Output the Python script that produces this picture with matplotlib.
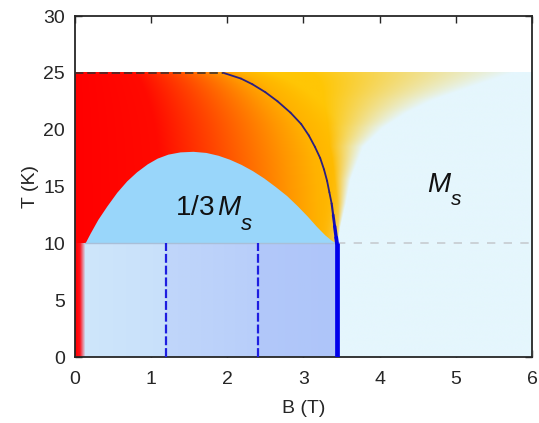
import numpy as np
import matplotlib.pyplot as plt
from matplotlib.collections import LineCollection

plt.rcParams['font.family'] = ['Liberation Sans', 'DejaVu Sans']
plt.rcParams['mathtext.fontset'] = 'custom'
plt.rcParams['mathtext.rm'] = 'Liberation Sans'
plt.rcParams['mathtext.it'] = 'Liberation Sans:italic'

# transition line (B, T) from the ordering temperature down to T_low
phase_B = [1.95, 2.18, 2.33, 2.50, 2.66, 2.83, 2.97, 3.07, 3.15, 3.22,
           3.27, 3.31, 3.34, 3.37, 3.39, 3.41, 3.43, 3.44]
phase_T = [25.0, 24.5, 24.0, 23.3, 22.5, 21.5, 20.5, 19.5, 18.5, 17.5,
           16.5, 15.5, 14.5, 13.5, 12.5, 11.5, 10.5, 10.0]

# 1/3 plateau dome
dome_B = [0.13, 0.20, 0.30, 0.42, 0.55, 0.68, 0.81, 0.95, 1.08, 1.22, 1.38,
          1.55, 1.72, 1.88, 2.03, 2.18, 2.33, 2.48, 2.63, 2.78, 2.92, 3.05,
          3.17, 3.28, 3.37, 3.44]
dome_T = [10.0, 10.9, 12.1, 13.3, 14.5, 15.5, 16.3, 17.0, 17.5, 17.85, 18.05,
          18.1, 18.0, 17.75, 17.4, 16.95, 16.4, 15.75, 15.0, 14.2, 13.3, 12.4,
          11.5, 10.75, 10.25, 10.0]

# edge of the saturated region
ms_B = [3.44, 3.48, 3.55, 3.61, 3.78, 4.05, 4.36, 4.7, 5.09, 5.75]
ms_T = [10.0, 11.5, 13.5, 15.6, 18.5, 20.2, 21.5, 22.6, 23.5, 25.0]

T_order = 25.0        # ordering temperature
T_low = 10.0          # low temperature boundary
B_edge = 0.13         # low-field edge of the low-T phases
B_steps = [1.2, 2.4]  # field-induced steps below T_low
B_sat = 3.44

xticks = [0, 1, 2, 3, 4, 5, 6]
yticks = [0, 5, 10, 15, 20, 25, 30]


def smooth(a, sx, sy):
    # separable gaussian blur with edge padding
    for axis, sig in ((1, sx), (0, sy)):
        n = int(3 * sig)
        k = np.exp(-0.5 * (np.arange(-n, n + 1) / sig) ** 2)
        k /= k.sum()
        a = np.apply_along_axis(
            lambda r: np.convolve(np.pad(r, n, mode='edge'), k, 'valid'), axis, a)
    return a


# background map
nb, nt = 460, 290
B = np.linspace(0, 6, nb)
T = np.linspace(0, T_order, nt)
BB, TT = np.meshgrid(B, T)
Tc = np.clip(TT, T_low, T_order)
bc = np.interp(Tc, phase_T[::-1], phase_B[::-1])
bms = np.interp(Tc, ms_T, ms_B)

# red -> orange -> amber with field
p = np.clip(BB / (bc + 0.3 + 0.3 * (Tc - T_low) / (T_order - T_low)), 0, 1)
green = np.interp(p, [0, 0.3, 0.5, 0.75, 0.85, 1.0], [0, 10, 70, 150, 178, 198])
img = np.zeros((nt, nb, 3))
img[..., 0] = 255
img[..., 1] = green
img[..., 2] = np.interp(p, [0, 0.9, 1.0], [0, 0, 5])

# fade towards the saturated state beyond the transition line
cyan = np.array([229, 246, 253])
v = (BB - bc) / np.maximum(bms - bc, 1e-3)
fade = np.clip((v - 0.3) / 0.7, 0, 1)
m = smooth((BB > bms).astype(float), 8, 5)
a = np.maximum(fade, m)
img = img * (1 - a[..., None]) + cyan * a[..., None]

# low temperature strip
knots = [0, 0.06, B_edge, B_steps[0] - 1e-3, B_steps[0], B_steps[1] - 1e-3,
         B_steps[1], B_sat - 1e-3, B_sat, 6]
low_r = [255, 255, 206, 200, 192, 184, 178, 174, 229, 229]
low_g = [0, 20, 230, 224, 214, 206, 200, 197, 246, 246]
low_b = [0, 30, 251, 250, 250, 250, 249, 249, 253, 253]
low = np.stack([np.interp(B, knots, c) for c in (low_r, low_g, low_b)], axis=-1)
below = TT < T_low
img[below] = np.broadcast_to(low, img.shape)[below]

fig, ax = plt.subplots(figsize=(5.39, 4.23), dpi=100)
fig.subplots_adjust(left=0.139, right=0.987, bottom=0.156, top=0.962)

ax.imshow(img / 255, origin='lower', extent=[0, 6, 0, T_order],
          aspect='auto', interpolation='bilinear', zorder=1)

ax.fill_between(dome_B, T_low, dome_T, color='#99d6fa', lw=0, zorder=2)

# boundary lines
ax.plot([B_edge, B_sat], [T_low, T_low], color='#a9bfd8', lw=1.0, zorder=3)
ax.plot([B_sat, 6], [T_low, T_low], color='#c6cbd0', lw=1.2,
        ls=(0, (5, 5)), zorder=3)
ax.plot([0, phase_B[0]], [T_order, T_order], color='#2e2e2e', lw=1.1,
        ls=(0, (5.5, 2.5)), zorder=3)
for b in B_steps:
    ax.plot([b, b], [0, T_low], color='#1e1ee0', lw=1.6,
            ls=(0, (4, 1.3)), zorder=3)

pts = np.column_stack([phase_B, phase_T])
segs = np.stack([pts[:-1], pts[1:]], axis=1)
mid_T = 0.5 * (pts[:-1, 1] + pts[1:, 1])
f = np.clip((13.5 - mid_T) / 3.5, 0, 1)
cols = [(0.17 - 0.17 * k, 0.12 - 0.12 * k, 0.50 + 0.42 * k) for k in f]
ax.add_collection(LineCollection(segs, colors=cols, linewidths=1.3 + 1.6 * f,
                                 capstyle='round', joinstyle='round', zorder=4))
ax.plot([B_sat, B_sat], [0, T_low], color='#0000eb', lw=3.4,
        solid_capstyle='butt', zorder=4)

# phase labels, subscripts set low as in the original figure
ax.text(1.31, 12.5, r'$1/3\,M$', fontsize=20, ha='left', va='baseline',
        color='#111111', zorder=5)
ax.text(2.17, 11.2, r'$s$', fontsize=16, ha='left', va='baseline',
        color='#111111', zorder=5)
ax.text(4.62, 14.5, r'$M$', fontsize=20, ha='left', va='baseline',
        color='#111111', zorder=5)
ax.text(4.92, 13.4, r'$s$', fontsize=15, ha='left', va='baseline',
        color='#111111', zorder=5)

ax.set_xlim(0, 6)
ax.set_ylim(0, 30)
ax.set_xticks(xticks)
ax.set_yticks(yticks)
ax.set_axisbelow(True)
ax.tick_params(direction='in', top=True, right=True, length=5, width=1,
               labelsize=14, colors='#262626')
ax.tick_params(axis='x', pad=10)
ax.tick_params(axis='y', pad=7)
for sp in ax.spines.values():
    sp.set_linewidth(1.3)
    sp.set_color('#262626')
ax.set_xlabel('B (T)', fontsize=14, color='#262626', labelpad=9)
ax.set_ylabel('T (K)', fontsize=14, color='#262626', labelpad=3)

fig.savefig('out.png', dpi=100)
